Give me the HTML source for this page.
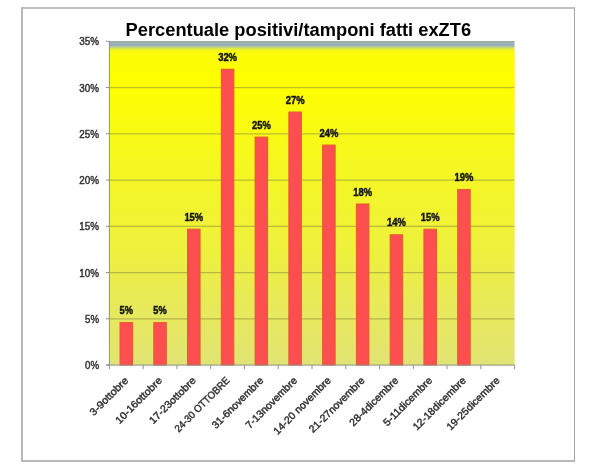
<!DOCTYPE html>
<html><head><meta charset="utf-8"><style>
html,body{margin:0;padding:0;background:#fff;}
body{width:600px;height:476px;overflow:hidden;position:relative;}
svg{position:absolute;left:0;top:0;will-change:transform;}
.frame{position:absolute;left:21px;top:7px;width:551px;height:451px;border:2px solid #b8b8b8;border-top-color:#c0c0c0;border-right:1.5px solid #a4a4a4;}
.title{font-family:"Liberation Sans",sans-serif;font-weight:bold;font-size:18.0px;fill:#000;}
.dl{font-family:"Liberation Sans",sans-serif;font-weight:bold;font-size:10.0px;fill:#141414;stroke:#141414;stroke-width:0.45px;text-anchor:middle;}
.yl{font-family:"Liberation Sans",sans-serif;font-size:10.0px;fill:#303030;stroke:#303030;stroke-width:0.42px;text-anchor:end;}
.xl{font-family:"Liberation Sans",sans-serif;font-size:10.3px;fill:#303030;stroke:#303030;stroke-width:0.42px;text-anchor:end;}
.ax{stroke:#909090;stroke-width:1;}
#wrap{position:absolute;left:0;top:0;width:600px;height:476px;background:#fff;filter:blur(0.35px);}
</style></head><body><div id="wrap">
<div class="frame"></div>
<svg width="600" height="476" viewBox="0 0 600 476">
<defs>
<linearGradient id="bg" x1="0" y1="41" x2="0" y2="365" gradientUnits="userSpaceOnUse">
<stop offset="0.0000" stop-color="#a2b2aa"/>
<stop offset="0.0015" stop-color="#9eaea6"/>
<stop offset="0.0046" stop-color="#9cafa8"/>
<stop offset="0.0077" stop-color="#a0b8b8"/>
<stop offset="0.0108" stop-color="#98a8c0"/>
<stop offset="0.0139" stop-color="#a0b0b8"/>
<stop offset="0.0179" stop-color="#b4c890"/>
<stop offset="0.0216" stop-color="#cce064"/>
<stop offset="0.0247" stop-color="#e4ee38"/>
<stop offset="0.0284" stop-color="#f2f41c"/>
<stop offset="0.0370" stop-color="#fcfc08"/>
<stop offset="0.1204" stop-color="#ffff00"/>
<stop offset="0.3580" stop-color="#f6f81e"/>
<stop offset="0.6512" stop-color="#eef03e"/>
<stop offset="0.7994" stop-color="#e8ea58"/>
<stop offset="0.9321" stop-color="#e4e66a"/>
<stop offset="1.0000" stop-color="#e0e474"/>
</linearGradient>
</defs>
<text class="title" x="125.6" y="36.3" textLength="345.49" lengthAdjust="spacingAndGlyphs">Percentuale positivi/tamponi fatti exZT6</text>
<rect x="109.40" y="41.0" width="405.20" height="324.10" fill="url(#bg)"/>
<line x1="109.40" y1="318.84" x2="514.60" y2="318.84" stroke="#8c8c3c" stroke-opacity="0.55" stroke-width="1.2"/>
<line x1="109.40" y1="272.59" x2="514.60" y2="272.59" stroke="#8c8c3c" stroke-opacity="0.55" stroke-width="1.2"/>
<line x1="109.40" y1="226.33" x2="514.60" y2="226.33" stroke="#8c8c3c" stroke-opacity="0.55" stroke-width="1.2"/>
<line x1="109.40" y1="180.07" x2="514.60" y2="180.07" stroke="#8c8c3c" stroke-opacity="0.55" stroke-width="1.2"/>
<line x1="109.40" y1="133.81" x2="514.60" y2="133.81" stroke="#8c8c3c" stroke-opacity="0.55" stroke-width="1.2"/>
<line x1="109.40" y1="87.56" x2="514.60" y2="87.56" stroke="#8c8c3c" stroke-opacity="0.55" stroke-width="1.2"/>
<rect x="120.03" y="322.58" width="12.5" height="42.52" fill="#fd4f50" stroke="#e8582c" stroke-width="1"/>
<text class="dl" x="126.28" y="314.18" textLength="13.36" lengthAdjust="spacingAndGlyphs">5%</text>
<rect x="153.80" y="322.58" width="12.5" height="42.52" fill="#fd4f50" stroke="#e8582c" stroke-width="1"/>
<text class="dl" x="160.05" y="314.18" textLength="13.36" lengthAdjust="spacingAndGlyphs">5%</text>
<rect x="187.57" y="229.14" width="12.5" height="135.96" fill="#fd4f50" stroke="#e8582c" stroke-width="1"/>
<text class="dl" x="193.82" y="220.74" textLength="18.83" lengthAdjust="spacingAndGlyphs">15%</text>
<rect x="221.33" y="69.28" width="12.5" height="295.82" fill="#fd4f50" stroke="#e8582c" stroke-width="1"/>
<text class="dl" x="227.58" y="60.88" textLength="18.83" lengthAdjust="spacingAndGlyphs">32%</text>
<rect x="255.10" y="137.09" width="12.5" height="228.01" fill="#fd4f50" stroke="#e8582c" stroke-width="1"/>
<text class="dl" x="261.35" y="128.69" textLength="18.83" lengthAdjust="spacingAndGlyphs">25%</text>
<rect x="288.87" y="112.02" width="12.5" height="253.08" fill="#fd4f50" stroke="#e8582c" stroke-width="1"/>
<text class="dl" x="295.12" y="103.62" textLength="18.83" lengthAdjust="spacingAndGlyphs">27%</text>
<rect x="322.63" y="145.05" width="12.5" height="220.05" fill="#fd4f50" stroke="#e8582c" stroke-width="1"/>
<text class="dl" x="328.88" y="136.65" textLength="18.83" lengthAdjust="spacingAndGlyphs">24%</text>
<rect x="356.40" y="203.98" width="12.5" height="161.12" fill="#fd4f50" stroke="#e8582c" stroke-width="1"/>
<text class="dl" x="362.65" y="195.58" textLength="18.83" lengthAdjust="spacingAndGlyphs">18%</text>
<rect x="390.17" y="234.78" width="12.5" height="130.32" fill="#fd4f50" stroke="#e8582c" stroke-width="1"/>
<text class="dl" x="396.42" y="226.38" textLength="18.83" lengthAdjust="spacingAndGlyphs">14%</text>
<rect x="423.93" y="229.23" width="12.5" height="135.87" fill="#fd4f50" stroke="#e8582c" stroke-width="1"/>
<text class="dl" x="430.18" y="220.83" textLength="18.83" lengthAdjust="spacingAndGlyphs">15%</text>
<rect x="457.70" y="189.55" width="12.5" height="175.55" fill="#fd4f50" stroke="#e8582c" stroke-width="1"/>
<text class="dl" x="463.95" y="181.15" textLength="18.83" lengthAdjust="spacingAndGlyphs">19%</text>
<line x1="109.40" y1="41.30" x2="109.40" y2="369.10" class="ax"/>
<line x1="105.90" y1="365.10" x2="514.60" y2="365.10" class="ax"/>
<line x1="105.90" y1="365.10" x2="109.40" y2="365.10" class="ax"/>
<text class="yl" x="99.0" y="369.10" textLength="13.94" lengthAdjust="spacingAndGlyphs">0%</text>
<line x1="105.90" y1="318.84" x2="109.40" y2="318.84" class="ax"/>
<text class="yl" x="99.0" y="322.84" textLength="13.94" lengthAdjust="spacingAndGlyphs">5%</text>
<line x1="105.90" y1="272.59" x2="109.40" y2="272.59" class="ax"/>
<text class="yl" x="99.0" y="276.59" textLength="19.71" lengthAdjust="spacingAndGlyphs">10%</text>
<line x1="105.90" y1="226.33" x2="109.40" y2="226.33" class="ax"/>
<text class="yl" x="99.0" y="230.33" textLength="19.71" lengthAdjust="spacingAndGlyphs">15%</text>
<line x1="105.90" y1="180.07" x2="109.40" y2="180.07" class="ax"/>
<text class="yl" x="99.0" y="184.07" textLength="19.71" lengthAdjust="spacingAndGlyphs">20%</text>
<line x1="105.90" y1="133.81" x2="109.40" y2="133.81" class="ax"/>
<text class="yl" x="99.0" y="137.81" textLength="19.71" lengthAdjust="spacingAndGlyphs">25%</text>
<line x1="105.90" y1="87.56" x2="109.40" y2="87.56" class="ax"/>
<text class="yl" x="99.0" y="91.56" textLength="19.71" lengthAdjust="spacingAndGlyphs">30%</text>
<line x1="105.90" y1="41.30" x2="109.40" y2="41.30" class="ax"/>
<text class="yl" x="99.0" y="45.30" textLength="19.71" lengthAdjust="spacingAndGlyphs">35%</text>
<line x1="143.17" y1="365.10" x2="143.17" y2="369.10" class="ax"/>
<line x1="176.93" y1="365.10" x2="176.93" y2="369.10" class="ax"/>
<line x1="210.70" y1="365.10" x2="210.70" y2="369.10" class="ax"/>
<line x1="244.47" y1="365.10" x2="244.47" y2="369.10" class="ax"/>
<line x1="278.23" y1="365.10" x2="278.23" y2="369.10" class="ax"/>
<line x1="312.00" y1="365.10" x2="312.00" y2="369.10" class="ax"/>
<line x1="345.77" y1="365.10" x2="345.77" y2="369.10" class="ax"/>
<line x1="379.53" y1="365.10" x2="379.53" y2="369.10" class="ax"/>
<line x1="413.30" y1="365.10" x2="413.30" y2="369.10" class="ax"/>
<line x1="447.07" y1="365.10" x2="447.07" y2="369.10" class="ax"/>
<line x1="480.83" y1="365.10" x2="480.83" y2="369.10" class="ax"/>
<line x1="514.60" y1="365.10" x2="514.60" y2="369.10" class="ax"/>
<text class="xl" x="128.98" y="381.10" transform="rotate(-45 128.98 381.10)" textLength="49.68" lengthAdjust="spacingAndGlyphs">3-9ottobre</text>
<text class="xl" x="162.75" y="381.10" transform="rotate(-45 162.75 381.10)" textLength="61.23" lengthAdjust="spacingAndGlyphs">10-16ottobre</text>
<text class="xl" x="196.52" y="381.10" transform="rotate(-45 196.52 381.10)" textLength="61.23" lengthAdjust="spacingAndGlyphs">17-23ottobre</text>
<text class="xl" x="230.28" y="381.10" transform="rotate(-45 230.28 381.10)" textLength="72.88" lengthAdjust="spacingAndGlyphs">24-30 OTTOBRE</text>
<text class="xl" x="264.05" y="381.10" transform="rotate(-45 264.05 381.10)" textLength="68.09" lengthAdjust="spacingAndGlyphs">31-6novembre</text>
<text class="xl" x="297.82" y="381.10" transform="rotate(-45 297.82 381.10)" textLength="68.09" lengthAdjust="spacingAndGlyphs">7-13novembre</text>
<text class="xl" x="331.58" y="381.10" transform="rotate(-45 331.58 381.10)" textLength="76.45" lengthAdjust="spacingAndGlyphs">14-20 novembre</text>
<text class="xl" x="365.35" y="381.10" transform="rotate(-45 365.35 381.10)" textLength="73.86" lengthAdjust="spacingAndGlyphs">21-27novembre</text>
<text class="xl" x="399.12" y="381.10" transform="rotate(-45 399.12 381.10)" textLength="64.53" lengthAdjust="spacingAndGlyphs">28-4dicembre</text>
<text class="xl" x="432.88" y="381.10" transform="rotate(-45 432.88 381.10)" textLength="64.53" lengthAdjust="spacingAndGlyphs">5-11dicembre</text>
<text class="xl" x="466.65" y="381.10" transform="rotate(-45 466.65 381.10)" textLength="70.30" lengthAdjust="spacingAndGlyphs">12-18dicembre</text>
<text class="xl" x="500.42" y="381.10" transform="rotate(-45 500.42 381.10)" textLength="70.30" lengthAdjust="spacingAndGlyphs">19-25dicembre</text>
</svg>
</div></body></html>
